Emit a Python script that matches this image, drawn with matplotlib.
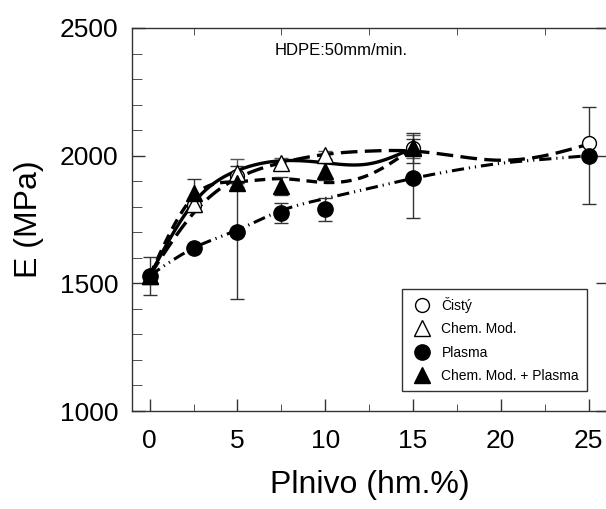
import numpy as np
import matplotlib
matplotlib.use("Agg")
import matplotlib.pyplot as plt
from matplotlib.lines import Line2D

plt.rcParams['font.family'] = ['Liberation Sans', 'DejaVu Sans']

# measured points
x_cisty = [0, 2.5, 5, 15, 25]
y_cisty = [1530, 1805, 1922, 2030, 2051]
e_cisty = [0, 25, 0, 0, 0]

x_chem = [0, 2.5, 5, 7.5, 10, 15]
y_chem = [1530, 1812, 1932, 1970, 2003, 2035]
e_chem = [0, 0, 55, 20, 15, 45]

x_plasma = [0, 2.5, 5, 7.5, 10, 15, 25]
y_plasma = [1530, 1637, 1700, 1775, 1790, 1911, 2000]
e_plasma = [75, 0, 260, 40, 45, 155, 190]

x_cp = [0, 2.5, 5, 7.5, 10, 15]
y_cp = [1530, 1853, 1892, 1880, 1941, 2030]
e_cp = [0, 55, 0, 35, 35, 60]

# fitted curves (knots)
fx_solid = [0, 2.5, 5, 7.5, 10, 12.5, 15]
fy_solid = [1530, 1815, 1942, 1980, 1972, 1968, 2030]

fx_long = [0, 2.5, 5, 7.5, 10, 12.5, 15, 17.5, 20, 22.5, 25]
fy_long = [1530, 1775, 1912, 1972, 2005, 2018, 2018, 1998, 1982, 2000, 2045]

fx_med = [0, 2.5, 5, 7.5, 10, 12.5, 15]
fy_med = [1530, 1840, 1898, 1910, 1895, 1925, 2030]

fx_dd = [0, 2.5, 5, 7.5, 10, 12.5, 15, 17.5, 20, 22.5, 25]
fy_dd = [1530, 1638, 1709, 1785, 1832, 1872, 1911, 1944, 1970, 1986, 2000]

labels = ['Čistý', 'Chem. Mod.', 'Plasma', 'Chem. Mod. + Plasma']


def spline(xk, yk, num=300):
    # natural cubic spline
    xk = np.asarray(xk, float)
    yk = np.asarray(yk, float)
    n = len(xk)
    h = np.diff(xk)
    A = np.zeros((n, n))
    b = np.zeros(n)
    A[0, 0] = A[-1, -1] = 1
    for i in range(1, n - 1):
        A[i, i - 1] = h[i - 1]
        A[i, i] = 2 * (h[i - 1] + h[i])
        A[i, i + 1] = h[i]
        b[i] = 3 * ((yk[i + 1] - yk[i]) / h[i] - (yk[i] - yk[i - 1]) / h[i - 1])
    c = np.linalg.solve(A, b)
    xs = np.linspace(xk[0], xk[-1], num)
    idx = np.clip(np.searchsorted(xk, xs) - 1, 0, n - 2)
    dx = xs - xk[idx]
    bb = (yk[1:] - yk[:-1]) / h - h * (2 * c[:-1] + c[1:]) / 3
    d = (c[1:] - c[:-1]) / (3 * h)
    ys = yk[idx] + bb[idx] * dx + c[idx] * dx ** 2 + d[idx] * dx ** 3
    return xs, ys


fig = plt.figure(figsize=(6.06, 5.09), dpi=100)
ax = fig.add_axes([0.218, 0.1925, 0.785, 0.7525])

# curves
xs, ys = spline(fx_dd, fy_dd)
ax.plot(xs, ys, color='black', lw=2.2, ls=(0, (4, 1.6, 0.4, 1.6, 0.4, 1.6)), zorder=2)
xs, ys = spline(fx_med, fy_med)
ax.plot(xs, ys, color='black', lw=2.4, ls=(0, (3.2, 2.0)), zorder=2)
xs, ys = spline(fx_long, fy_long)
ax.plot(xs, ys, color='black', lw=2.4, ls=(0, (5, 2.2)), zorder=2)
xs, ys = spline(fx_solid, fy_solid)
ax.plot(xs, ys, color='black', lw=2.4, ls='-', zorder=2)

# error bars
ax.errorbar(x_cisty, y_cisty, yerr=e_cisty, fmt='none', ecolor='#555555', elinewidth=1.0, capsize=5, zorder=3)
ax.errorbar(x_chem, y_chem, yerr=e_chem, fmt='none', ecolor='#555555', elinewidth=1.0, capsize=5, zorder=3)
ax.errorbar(x_plasma, y_plasma, yerr=e_plasma, fmt='none', ecolor='#333333', elinewidth=1.0, capsize=5, zorder=3)
ax.errorbar(x_cp, y_cp, yerr=e_cp, fmt='none', ecolor='#333333', elinewidth=1.0, capsize=5, zorder=3)

# markers
ax.plot(x_cisty, y_cisty, 'o', ms=10, mfc='white', mec='black', mew=1.0, ls='none', zorder=4)
ax.plot(x_chem, y_chem, '^', ms=11, mfc='white', mec='black', mew=1.0, ls='none', zorder=4)
ax.plot(x_plasma, y_plasma, 'o', ms=11, mfc='black', mec='black', ls='none', zorder=5)
ax.plot(x_cp, y_cp, '^', ms=11, mfc='black', mec='black', ls='none', zorder=5)

ax.set_xlim(-1, 26.1)
ax.set_ylim(1000, 2500)
ax.set_xticks([0, 5, 10, 15, 20, 25])
ax.set_xticks([2.5, 7.5, 12.5, 17.5, 22.5], minor=True)
ax.set_yticks([1000, 1500, 2000, 2500])
ax.set_yticks(np.arange(1000, 2501, 100), minor=True)
ax.tick_params(axis='both', which='major', direction='in', labelsize=19, color='#333333', width=1)
ax.tick_params(axis='x', which='major', length=9, pad=13, top=False)
ax.tick_params(axis='x', which='minor', direction='in', length=5, top=True, color='#333333')
ax.tick_params(axis='y', which='major', length=9, right=True, pad=10)
ax.tick_params(axis='y', which='minor', direction='in', length=7, color='#333333')
for s in ax.spines.values():
    s.set_color('#333333')
    s.set_linewidth(1.0)

ax.set_xlabel('Plnivo (hm.%)', fontsize=23, labelpad=12)
ax.set_ylabel('E (MPa)', fontsize=23, labelpad=11)

ax.text(0.44, 0.94, 'HDPE:50mm/min.', transform=ax.transAxes, fontsize=12, ha='center', va='center')

handles = [
    Line2D([], [], marker='o', ls='none', ms=10, mfc='white', mec='black', mew=1.0),
    Line2D([], [], marker='^', ls='none', ms=11, mfc='white', mec='black', mew=1.0),
    Line2D([], [], marker='o', ls='none', ms=11, mfc='black', mec='black'),
    Line2D([], [], marker='^', ls='none', ms=11, mfc='black', mec='black'),
]
leg = ax.legend(handles, labels, loc='upper left', bbox_to_anchor=(0.567, 0.3185),
                fontsize=10, frameon=True, fancybox=False, framealpha=1,
                edgecolor='#333333', borderpad=0.55, labelspacing=0.68,
                handlelength=1.8, handletextpad=0.5, borderaxespad=0)
leg.get_frame().set_linewidth(1.0)

fig.savefig('out.png', dpi=100)
